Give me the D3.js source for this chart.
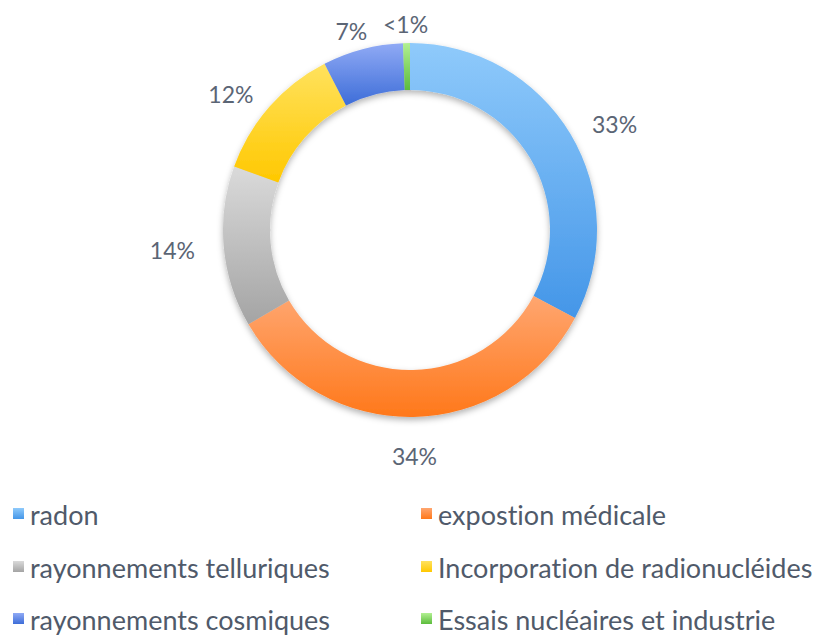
<!DOCTYPE html>
<html>
<head>
<meta charset="utf-8">
<script src="https://cdn.jsdelivr.net/npm/d3@7"></script>
<style>
  body { margin: 0; background: #fff; }
  text { font-family: Lato, "Open Sans", sans-serif; font-variant-ligatures: none; }
</style>
</head>
<body>
<div id="chart"></div>
<script>
const categories = ['radon', 'expostion médicale', 'rayonnements telluriques',
  'Incorporation de radionucléides', 'rayonnements cosmiques', 'Essais nucléaires et industrie'];
const values = [33, 34, 14, 12, 7, 0.6];
const valueLabels = ['33%', '34%', '14%', '12%', '7%', '<1%'];
const colorsTop = ['#8fcafb', '#ffa670', '#dadada', '#ffe25e', '#90aaf5', '#b2f092'];
const colorsBottom = ['#4496e8', '#ff781a', '#a4a4a4', '#ffc800', '#3d6dd8', '#5cbc3c'];

const width = 818, height = 635;
const cx = 410, cy = 230;
const outerR = 187, innerR = 140;

const data = categories.map((c, i) => ({ label: c, value: values[i], text: valueLabels[i], i }));

const svg = d3.select('#chart').append('svg')
  .attr('width', width)
  .attr('height', height);

const defs = svg.append('defs');
data.forEach(d => {
  const g = defs.append('linearGradient')
    .attr('id', 'grad' + d.i)
    .attr('x1', 0).attr('y1', 0).attr('x2', 0).attr('y2', 1);
  g.append('stop').attr('offset', '0%').attr('stop-color', colorsTop[d.i]);
  g.append('stop').attr('offset', '100%').attr('stop-color', colorsBottom[d.i]);
});
const f = defs.append('filter').attr('id', 'shadow')
  .attr('x', '-20%').attr('y', '-20%').attr('width', '140%').attr('height', '140%');
f.append('feDropShadow').attr('dx', 0).attr('dy', 3).attr('stdDeviation', 3)
  .attr('flood-color', '#000').attr('flood-opacity', 0.3);

const pie = d3.pie().sort(null).value(d => d.value);
const arc = d3.arc().innerRadius(innerR).outerRadius(outerR);

const g = svg.append('g').attr('transform', `translate(${cx},${cy})`);

g.append('g').attr('filter', 'url(#shadow)')
  .selectAll('path')
  .data(pie(data))
  .enter()
  .append('path')
  .attr('d', arc)
  .attr('fill', d => `url(#grad${d.data.i})`);

// labels outside the ring
const labelR = 216;
const labels = g.selectAll('.lbl')
  .data(pie(data))
  .enter()
  .append('text')
  .attr('class', 'lbl')
  .attr('font-size', 23)
  .attr('fill', '#5b6575')
  .attr('text-anchor', 'middle')
  .attr('dominant-baseline', 'central')
  .text(d => d.data.text);

labels.each(function(d) {
  const a = (d.startAngle + d.endAngle) / 2;
  const w = this.getComputedTextLength() / 2;
  const x = Math.sin(a) * (labelR + w);
  const y = -Math.cos(a) * labelR + 10 * Math.abs(Math.cos(a));
  d3.select(this).attr('x', x).attr('y', y);
});

// legend
const legend = svg.append('g');
const colX = d3.scaleOrdinal().domain([0, 1]).range([13, 421]);
const rowY = d3.scaleOrdinal().domain([0, 1, 2]).range([513, 566, 618]);

const items = legend.selectAll('g')
  .data(data)
  .enter()
  .append('g')
  .attr('transform', d => `translate(${colX(d.i % 2)},${rowY(Math.floor(d.i / 2))})`);

items.append('rect')
  .attr('x', 0).attr('y', -5)
  .attr('width', 11).attr('height', 11)
  .attr('fill', d => `url(#grad${d.i})`);

items.append('text')
  .attr('x', 17)
  .attr('y', 1)
  .attr('dominant-baseline', 'central')
  .attr('font-size', 27)
  .attr('fill', '#505a6a')
  .text(d => d.label);
</script>
</body>
</html>
